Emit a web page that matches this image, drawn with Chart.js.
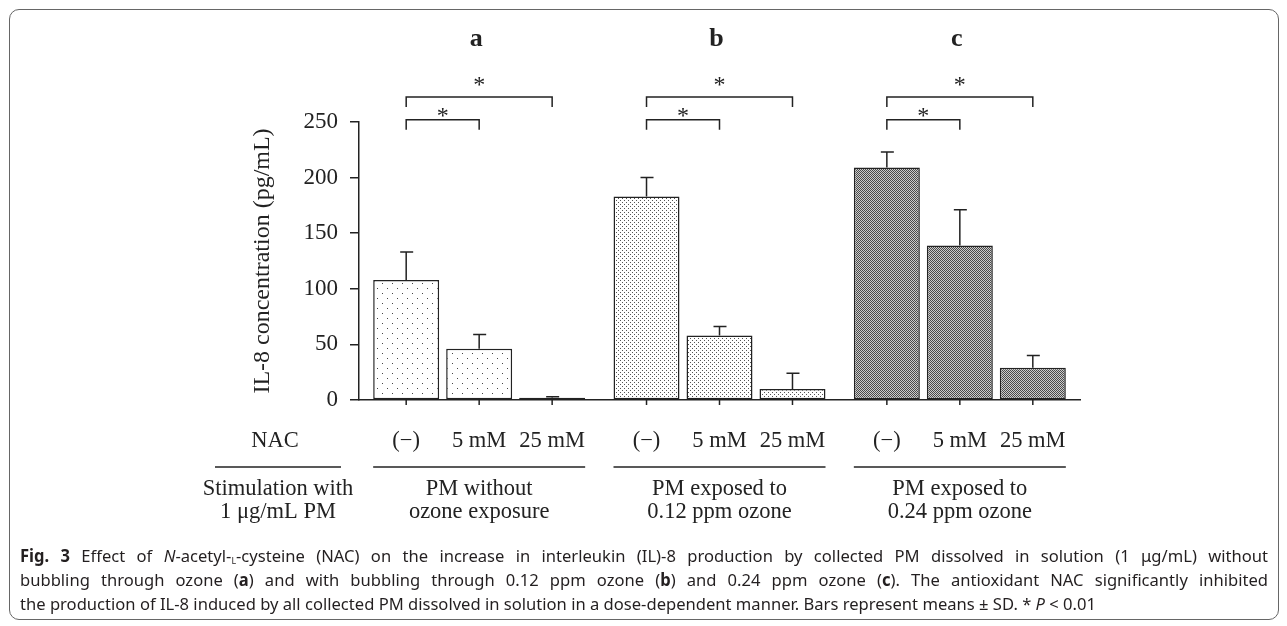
<!DOCTYPE html>
<html><head><meta charset="utf-8">
<script src="https://cdn.jsdelivr.net/npm/chart.js@4/dist/chart.umd.min.js"></script>
<style>
html,body{margin:0;padding:0;background:#fff;width:1287px;height:626px;overflow:hidden;}
#wrap{position:relative;width:1287px;height:626px;}
#frame{position:absolute;left:9px;top:9px;width:1270px;height:611px;border:1px solid #666;border-radius:10px;box-sizing:border-box;}
canvas{position:absolute;left:0;top:0;}
#cap{position:absolute;left:20px;top:544px;font-family:"Noto Sans","Open Sans",sans-serif;font-size:17px;line-height:24px;color:#231f20;transform-origin:0 0;white-space:nowrap;}
#cap .ln{display:block;}
#cap .j{text-align:justify;text-align-last:justify;}
#cap sub{font-size:9px;vertical-align:-2px;line-height:0;}
</style></head>
<body><div id="wrap"><div id="frame"></div><canvas id="c" width="1287" height="626"></canvas>
<div id="cap">
<div class="ln j"><b>Fig. 3</b> Effect of <i>N</i>-acetyl-<sub>L</sub>-cysteine (NAC) on the increase in interleukin (IL)-8 production by collected PM dissolved in solution (1 μg/mL) without</div>
<div class="ln j">bubbling through ozone (<b>a</b>) and with bubbling through 0.12 ppm ozone (<b>b</b>) and 0.24 ppm ozone (<b>c</b>). The antioxidant NAC significantly inhibited</div>
<div class="ln">the production of IL-8 induced by all collected PM dissolved in solution in a dose-dependent manner. Bars represent means ± SD. * <i>P</i> &lt; 0.01</div>
</div></div>
<script>
// ---- data ----
const groups = ['a', 'b', 'c'];
const groupLabels = [['PM without', 'ozone exposure'], ['PM exposed to', '0.12 ppm ozone'], ['PM exposed to', '0.24 ppm ozone']];
const nacLevels = ['(\u2212)', '5 mM', '25 mM'];
const meanNone = [108, 183, 209];
const mean5 = [46, 58, 139];
const mean25 = [2, 10, 29];
const sdNone = [25, 17, 14];
const sd5 = [13, 8, 32];
const sd25 = [1, 14, 11];
const yTicks = [0, 50, 100, 150, 200, 250];
const rowHeader = 'NAC';
const stimLabel = ['Stimulation with', '1 \u03bcg/mL PM'];
const sigStar = '*';

// ---- caption fitting ----
(function(){
  const cap = document.getElementById('cap');
  const lines = cap.querySelectorAll('.ln');
  lines.forEach(l => l.style.display = 'inline-block');
  const ws = Array.from(lines).map(l => l.getBoundingClientRect().width);
  lines.forEach(l => l.style.display = 'block');
  let s = 1076 / ws[2];
  s = Math.min(s, 1248 / Math.max(ws[0], ws[1]));
  cap.style.transform = 'scaleX(' + s + ')';
  cap.style.width = (1248 / s) + 'px';
})();

// ---- patterns ----
function makePattern(kind) {
  const p = document.createElement('canvas');
  const ctx = p.getContext('2d');
  if (kind === 0) {
    p.width = 10; p.height = 10;
    ctx.fillStyle = '#fff'; ctx.fillRect(0, 0, 10, 10);
    ctx.fillStyle = '#444';
    ctx.fillRect(2, 3, 1, 1); ctx.fillRect(7, 8, 1, 1);
  } else if (kind === 1) {
    p.width = 4; p.height = 4;
    ctx.fillStyle = '#fff'; ctx.fillRect(0, 0, 4, 4);
    ctx.fillStyle = '#555';
    ctx.fillRect(0, 0, 1, 1); ctx.fillRect(2, 2, 1, 1);
  } else {
    p.width = 2; p.height = 2;
    ctx.fillStyle = '#cccccc'; ctx.fillRect(0, 0, 2, 2);
    ctx.fillStyle = '#4a4a4a';
    ctx.fillRect(0, 0, 1, 1); ctx.fillRect(1, 1, 1, 1);
  }
  return ctx.createPattern(p, 'repeat');
}
const fills = [makePattern(0), makePattern(1), makePattern(2)];

const serif = 'Liberation Serif';
const ink = '#222';

const overlay = {
  id: 'overlay',
  afterDatasetsDraw(chart) {
    const ctx = chart.ctx, y = chart.scales.y, x = chart.scales.x, ca = chart.chartArea;
    const means = [meanNone, mean5, mean25], sds = [sdNone, sd5, sd25];
    const metas = [0, 1, 2].map(d => chart.getDatasetMeta(d));
    ctx.save();
    ctx.strokeStyle = ink; ctx.lineWidth = 1.5; ctx.fillStyle = ink;
    // error bars (upper only)
    metas.forEach((meta, d) => {
      meta.data.forEach((el, i) => {
        const top = y.getPixelForValue(means[d][i] + sds[d][i]);
        ctx.beginPath();
        ctx.moveTo(el.x, el.y); ctx.lineTo(el.x, top);
        ctx.moveTo(el.x - 6, top); ctx.lineTo(el.x + 7, top);
        ctx.stroke();
      });
    });
    // x ticks at each bar
    metas.forEach(meta => meta.data.forEach(el => {
      ctx.beginPath(); ctx.moveTo(el.x, ca.bottom); ctx.lineTo(el.x, ca.bottom + 5); ctx.stroke();
    }));
    // brackets & stars
    ctx.textAlign = 'center'; ctx.textBaseline = 'alphabetic';
    groups.forEach((g, i) => {
      const x0 = metas[0].data[i].x, x1 = metas[1].data[i].x, x2 = metas[2].data[i].x;
      const br = (xa, xb, lvl, leg, star) => {
        const yl = y.getPixelForValue(lvl), yg = y.getPixelForValue(leg);
        ctx.beginPath(); ctx.moveTo(xa, yg); ctx.lineTo(xa, yl); ctx.lineTo(xb, yl); ctx.lineTo(xb, yg); ctx.stroke();
        ctx.font = '24px "' + serif + '"';
        ctx.fillText(sigStar, (xa + xb) / 2, y.getPixelForValue(star) + 12);
      };
      br(x0, x1, 252, 243, 259.5);
      br(x0, x2, 272.5, 263.5, 288);
      // panel letters
      ctx.font = 'bold 26px "' + serif + '"';
      ctx.fillText(g, x.getPixelForValue(i) - 3, 46);
    });
    // NAC row
    ctx.font = '22.5px "' + serif + '"';
    ctx.textBaseline = 'middle';
    ctx.fillText(rowHeader, ca.left - 84, 441);
    metas.forEach((meta, d) => meta.data.forEach(el => ctx.fillText(nacLevels[d], el.x, 441)));
    // separator lines
    ctx.lineWidth = 1.3;
    ctx.beginPath(); ctx.moveTo(ca.left - 144, 467); ctx.lineTo(ca.left - 18, 467); ctx.stroke();
    groups.forEach((g, i) => {
      const cx = x.getPixelForValue(i);
      ctx.beginPath(); ctx.moveTo(cx - 106, 467); ctx.lineTo(cx + 106, 467); ctx.stroke();
      ctx.fillText(groupLabels[i][0], cx, 489);
      ctx.fillText(groupLabels[i][1], cx, 512);
    });
    ctx.fillText(stimLabel[0], ca.left - 81, 489);
    ctx.fillText(stimLabel[1], ca.left - 81, 512);
    ctx.restore();
  }
};

new Chart(document.getElementById('c'), {
  type: 'bar',
  data: {
    labels: groups,
    datasets: [
      { label: nacLevels[0], data: meanNone },
      { label: nacLevels[1], data: mean5 },
      { label: nacLevels[2], data: mean25 }
    ].map(ds => Object.assign(ds, {
      backgroundColor: fills, borderColor: ink, borderWidth: 1.5, borderSkipped: false,
      categoryPercentage: 0.911, barPercentage: 0.904
    }))
  },
  options: {
    responsive: false, animation: false, devicePixelRatio: 1,
    layout: { autoPadding: false, padding: { left: 248, top: 122, right: 207, bottom: 226 } },
    plugins: { legend: { display: false }, tooltip: { enabled: false } },
    scales: {
      x: {
        type: 'category', offset: true,
        grid: { display: false }, ticks: { display: false },
        border: { display: true, color: ink, width: 1.5 },
        afterFit(s) { s.height = 0; }
      },
      y: {
        min: 0, max: 250,
        afterBuildTicks(s) { s.ticks = yTicks.map(v => ({ value: v })); },
        ticks: { font: { family: serif, size: 23 }, color: ink, padding: 12 },
        grid: { drawOnChartArea: false, drawTicks: true, tickLength: 9, color: ink, lineWidth: 1.5 },
        border: { color: ink, width: 1.5 },
        title: { display: true, text: 'IL-8 concentration (pg/mL)', font: { family: serif, size: 24 }, color: ink, padding: { top: 0, bottom: 0 } },
        afterFit(s) { s.width = 111; }
      }
    }
  },
  plugins: [overlay]
});
</script>
</body></html>
